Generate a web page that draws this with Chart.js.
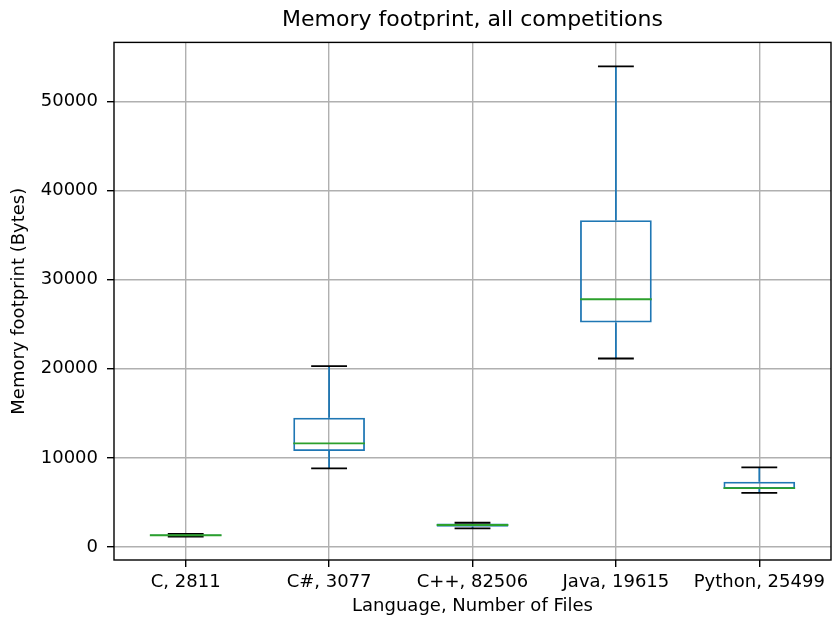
<!DOCTYPE html>
<html>
<head>
<meta charset="utf-8">
<script src="https://cdn.jsdelivr.net/npm/chart.js@4"></script>
<style>
  html, body { margin: 0; padding: 0; background: #fff; }
</style>
</head>
<body>
<canvas id="Chart1" width="832" height="619"></canvas>
<script>

const languages = ['C, 2811', 'C#, 3077', 'C++, 82506', 'Java, 19615', 'Python, 25499'];
const whiskerLow = [1180, 8820, 2100, 21150, 6080];
const q1 = [1250, 10760, 2280, 25190, 6540];
const median = [1320, 11630, 2470, 27800, 6610];
const q3 = [1400, 14500, 2650, 36660, 7320];
const whiskerHigh = [1480, 20290, 2720, 53920, 8940];
const yTicks = [0, 10000, 20000, 30000, 40000, 50000];

const FONT = 'DejaVu Sans';

// whiskers, caps, medians and the frame
const boxExtras = {
    id: 'boxExtras',
    afterDatasetsDraw(chart) {
        const ctx = chart.ctx;
        const x = chart.scales.x;
        const y = chart.scales.y;
        const step = x.getPixelForValue(1) - x.getPixelForValue(0);
        ctx.save();
        ctx.lineWidth = 1.8;
        for (let i = 0; i < languages.length; i++) {
            const cx = x.getPixelForValue(i);
            // whiskers
            ctx.strokeStyle = '#1f77b4';
            ctx.beginPath();
            ctx.moveTo(cx, y.getPixelForValue(q3[i]));
            ctx.lineTo(cx, y.getPixelForValue(whiskerHigh[i]));
            ctx.moveTo(cx, y.getPixelForValue(q1[i]));
            ctx.lineTo(cx, y.getPixelForValue(whiskerLow[i]));
            ctx.stroke();
            // caps
            ctx.strokeStyle = '#000';
            ctx.beginPath();
            ctx.moveTo(cx - step * 0.125, y.getPixelForValue(whiskerHigh[i]));
            ctx.lineTo(cx + step * 0.125, y.getPixelForValue(whiskerHigh[i]));
            ctx.moveTo(cx - step * 0.125, y.getPixelForValue(whiskerLow[i]));
            ctx.lineTo(cx + step * 0.125, y.getPixelForValue(whiskerLow[i]));
            ctx.stroke();
            // median
            ctx.strokeStyle = '#2ca02c';
            ctx.beginPath();
            ctx.moveTo(cx - step * 0.25, y.getPixelForValue(median[i]));
            ctx.lineTo(cx + step * 0.25, y.getPixelForValue(median[i]));
            ctx.stroke();
        }
        const a = chart.chartArea;
        ctx.strokeStyle = '#000';
        ctx.lineWidth = 1.4;
        ctx.strokeRect(a.left, a.top, a.right - a.left, a.bottom - a.top);
        ctx.restore();
    }
};

const ctx = document.getElementById('Chart1');

new Chart(ctx, {
    type: 'bar',
    data: {
        labels: languages,
        datasets: [{
            data: q1.map((v, i) => [v, q3[i]]),
            backgroundColor: 'rgba(0,0,0,0)',
            borderColor: '#1f77b4',
            borderWidth: 1.8,
            borderSkipped: false,
            barPercentage: 0.5,
            categoryPercentage: 1.0
        }]
    },
    plugins: [boxExtras],
    options: {
        responsive: false,
        animation: false,
        devicePixelRatio: 1,
        layout: { padding: { left: 0, right: 1, top: 0, bottom: 0 } },
        plugins: {
            legend: { display: false },
            tooltip: { enabled: false },
            title: {
                display: true,
                text: 'Memory footprint, all competitions',
                fullSize: false,
                color: '#000',
                font: { family: FONT, size: 22, weight: 'normal' },
                padding: { top: 7, bottom: 9 }
            }
        },
        scales: {
            x: {
                grid: {
                    offset: false,
                    color: '#b0b0b0',
                    lineWidth: 1.4,
                    tickColor: '#000',
                    tickLength: 7
                },
                border: { display: false },
                ticks: {
                    color: '#000',
                    padding: 5,
                    maxRotation: 0,
                    font: { family: FONT, size: 18 }
                },
                title: {
                    display: true,
                    text: 'Language, Number of Files',
                    color: '#000',
                    font: { family: FONT, size: 18 },
                    padding: { top: 0, bottom: 2 }
                },
                afterFit(scale) { scale.height = 59; }
            },
            y: {
                min: -1457,
                max: 56614,
                grid: {
                    color: '#b0b0b0',
                    lineWidth: 1.4,
                    tickColor: '#000',
                    tickLength: 7
                },
                border: { display: false },
                ticks: {
                    color: '#000',
                    padding: 9,
                    font: { family: FONT, size: 18 },
                    callback: (v) => String(v)
                },
                afterBuildTicks(scale) {
                    scale.ticks = yTicks.map(v => ({ value: v }));
                },
                title: {
                    display: true,
                    text: 'Memory footprint (Bytes)',
                    color: '#000',
                    font: { family: FONT, size: 18 },
                    padding: { top: 9, bottom: 0 }
                },
                afterFit(scale) { scale.width = 114; }
            }
        }
    }
});

</script>
</body>
</html>
